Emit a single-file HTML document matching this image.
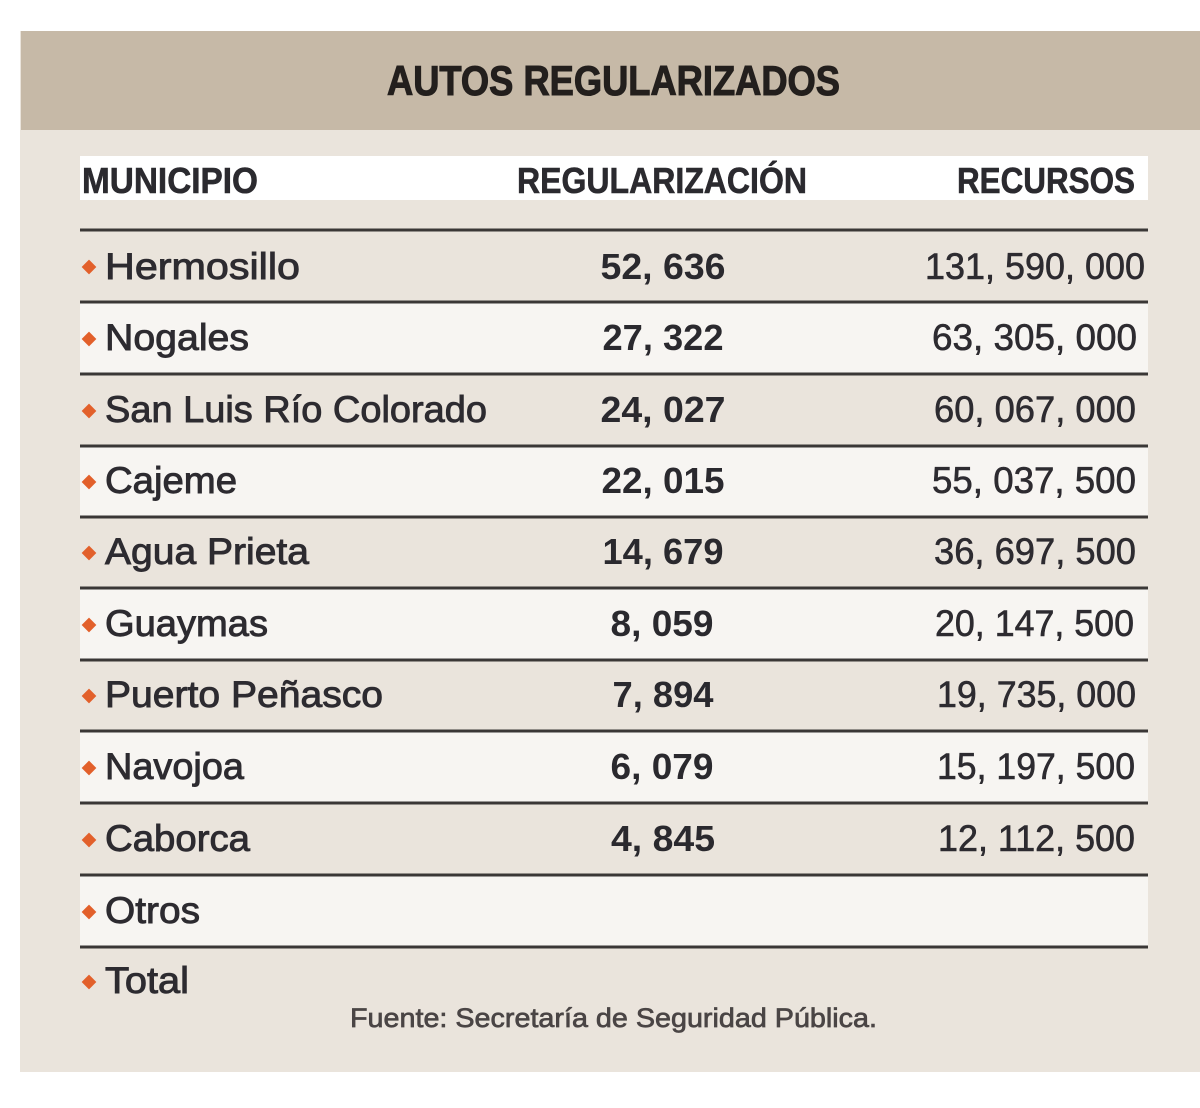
<!DOCTYPE html>
<html>
<head>
<meta charset="utf-8">
<style>
  html, body { margin: 0; padding: 0; background: #ffffff; }
  body { width: 1200px; height: 1108px; overflow: hidden; }
  svg { display: block; }
  text { font-family: "Liberation Sans", "DejaVu Sans", sans-serif; }
  .t { font-weight: bold; font-size: 42px; fill: #231f1d; stroke: #231f1d; stroke-width: 1.1px; }
  .h { font-weight: bold; font-size: 36px; fill: #2b2a2f; stroke: #2b2a2f; stroke-width: 0.6px; }
  .n { font-weight: normal; font-size: 37px; fill: #2d2b30; stroke: #2d2b30; stroke-width: 0.9px; }
  .m { font-weight: bold; font-size: 36px; fill: #2a292e; }
  .r { font-weight: normal; font-size: 37px; fill: #2d2b30; stroke: #2d2b30; stroke-width: 0.6px; }
  .f { font-weight: normal; font-size: 27px; fill: #4a4545; stroke: #4a4545; stroke-width: 0.7px; }
</style>
</head>
<body>
<svg width="1200" height="1108" viewBox="0 0 1200 1108" xmlns="http://www.w3.org/2000/svg">
  <rect x="0" y="0" width="1200" height="1108" fill="#ffffff"/>
  <!-- card -->
  <rect x="20" y="31" width="1180" height="1041" fill="#eae4dc"/>
  <!-- header band -->
  <rect x="21" y="31" width="1179" height="99" fill="#c6b9a7"/>
  <text class="t" x="387" y="95" textLength="453" lengthAdjust="spacingAndGlyphs">AUTOS REGULARIZADOS</text>

  <!-- column header strip -->
  <rect x="80" y="156" width="1068" height="44" fill="#ffffff"/>
  <text class="h" x="82" y="193" textLength="176" lengthAdjust="spacingAndGlyphs">MUNICIPIO</text>
  <text class="h" x="517" y="193" textLength="290" lengthAdjust="spacingAndGlyphs">REGULARIZACIÓN</text>
  <text class="h" x="957" y="193" textLength="178" lengthAdjust="spacingAndGlyphs">RECURSOS</text>

  <!-- light rows -->
  <g fill="#f7f5f2">
    <rect x="80" y="302" width="1068" height="72"/>
    <rect x="80" y="446" width="1068" height="71"/>
    <rect x="80" y="588" width="1068" height="72"/>
    <rect x="80" y="731" width="1068" height="72"/>
    <rect x="80" y="875" width="1068" height="72"/>
  </g>

  <!-- lines -->
  <g stroke="#3a3736" stroke-width="3">
    <line x1="80" y1="230" x2="1148" y2="230"/>
    <line x1="80" y1="302" x2="1148" y2="302"/>
    <line x1="80" y1="374" x2="1148" y2="374"/>
    <line x1="80" y1="446" x2="1148" y2="446"/>
    <line x1="80" y1="517" x2="1148" y2="517"/>
    <line x1="80" y1="588" x2="1148" y2="588"/>
    <line x1="80" y1="660" x2="1148" y2="660"/>
    <line x1="80" y1="731" x2="1148" y2="731"/>
    <line x1="80" y1="803" x2="1148" y2="803"/>
    <line x1="80" y1="875" x2="1148" y2="875"/>
    <line x1="80" y1="947" x2="1148" y2="947"/>
  </g>

  <!-- bullets -->
  <g fill="#e2602b">
    <rect x="-5.2" y="-5.2" width="10.4" height="10.4" transform="translate(89 267) rotate(45)"/>
    <rect x="-5.2" y="-5.2" width="10.4" height="10.4" transform="translate(89 339) rotate(45)"/>
    <rect x="-5.2" y="-5.2" width="10.4" height="10.4" transform="translate(89 411) rotate(45)"/>
    <rect x="-5.2" y="-5.2" width="10.4" height="10.4" transform="translate(89 482) rotate(45)"/>
    <rect x="-5.2" y="-5.2" width="10.4" height="10.4" transform="translate(89 553) rotate(45)"/>
    <rect x="-5.2" y="-5.2" width="10.4" height="10.4" transform="translate(89 625) rotate(45)"/>
    <rect x="-5.2" y="-5.2" width="10.4" height="10.4" transform="translate(89 696) rotate(45)"/>
    <rect x="-5.2" y="-5.2" width="10.4" height="10.4" transform="translate(89 768) rotate(45)"/>
    <rect x="-5.2" y="-5.2" width="10.4" height="10.4" transform="translate(89 840) rotate(45)"/>
    <rect x="-5.2" y="-5.2" width="10.4" height="10.4" transform="translate(89 912) rotate(45)"/>
    <rect x="-5.2" y="-5.2" width="10.4" height="10.4" transform="translate(89 982) rotate(45)"/>
  </g>

  <!-- names -->
  <text class="n" x="105" y="279" textLength="195" lengthAdjust="spacingAndGlyphs">Hermosillo</text>
  <text class="n" x="105" y="350" textLength="144" lengthAdjust="spacingAndGlyphs">Nogales</text>
  <text class="n" x="105" y="422" textLength="382" lengthAdjust="spacingAndGlyphs">San Luis Río Colorado</text>
  <text class="n" x="105" y="493" textLength="132" lengthAdjust="spacingAndGlyphs">Cajeme</text>
  <text class="n" x="105" y="564" textLength="204" lengthAdjust="spacingAndGlyphs">Agua Prieta</text>
  <text class="n" x="105" y="636" textLength="163" lengthAdjust="spacingAndGlyphs">Guaymas</text>
  <text class="n" x="105" y="707" textLength="278" lengthAdjust="spacingAndGlyphs">Puerto Peñasco</text>
  <text class="n" x="105" y="779" textLength="139" lengthAdjust="spacingAndGlyphs">Navojoa</text>
  <text class="n" x="105" y="851" textLength="145" lengthAdjust="spacingAndGlyphs">Caborca</text>
  <text class="n" x="105" y="923" textLength="95" lengthAdjust="spacingAndGlyphs">Otros</text>
  <text class="n" x="105" y="993" textLength="84" lengthAdjust="spacingAndGlyphs">Total</text>

  <!-- regularización -->
  <text class="m" x="663" y="279" text-anchor="middle" textLength="125" lengthAdjust="spacingAndGlyphs">52, 636</text>
  <text class="m" x="663" y="350" text-anchor="middle" textLength="121" lengthAdjust="spacingAndGlyphs">27, 322</text>
  <text class="m" x="663" y="422" text-anchor="middle" textLength="125" lengthAdjust="spacingAndGlyphs">24, 027</text>
  <text class="m" x="663" y="493" text-anchor="middle" textLength="123" lengthAdjust="spacingAndGlyphs">22, 015</text>
  <text class="m" x="663" y="564" text-anchor="middle" textLength="121" lengthAdjust="spacingAndGlyphs">14, 679</text>
  <text class="m" x="662" y="636" text-anchor="middle" textLength="103" lengthAdjust="spacingAndGlyphs">8, 059</text>
  <text class="m" x="663" y="707" text-anchor="middle" textLength="101" lengthAdjust="spacingAndGlyphs">7, 894</text>
  <text class="m" x="662" y="779" text-anchor="middle" textLength="103" lengthAdjust="spacingAndGlyphs">6, 079</text>
  <text class="m" x="663" y="851" text-anchor="middle" textLength="104" lengthAdjust="spacingAndGlyphs">4, 845</text>

  <!-- recursos -->
  <text class="r" x="1145" y="279" text-anchor="end" textLength="220" lengthAdjust="spacingAndGlyphs">131, 590, 000</text>
  <text class="r" x="1137" y="350" text-anchor="end" textLength="205" lengthAdjust="spacingAndGlyphs">63, 305, 000</text>
  <text class="r" x="1136" y="422" text-anchor="end" textLength="202" lengthAdjust="spacingAndGlyphs">60, 067, 000</text>
  <text class="r" x="1136" y="493" text-anchor="end" textLength="204" lengthAdjust="spacingAndGlyphs">55, 037, 500</text>
  <text class="r" x="1136" y="564" text-anchor="end" textLength="202" lengthAdjust="spacingAndGlyphs">36, 697, 500</text>
  <text class="r" x="1134" y="636" text-anchor="end" textLength="199" lengthAdjust="spacingAndGlyphs">20, 147, 500</text>
  <text class="r" x="1136" y="707" text-anchor="end" textLength="199" lengthAdjust="spacingAndGlyphs">19, 735, 000</text>
  <text class="r" x="1135" y="779" text-anchor="end" textLength="198" lengthAdjust="spacingAndGlyphs">15, 197, 500</text>
  <text class="r" x="1135" y="851" text-anchor="end" textLength="197" lengthAdjust="spacingAndGlyphs">12, 112, 500</text>

  <!-- source -->
  <text class="f" x="350" y="1027" textLength="527" lengthAdjust="spacingAndGlyphs">Fuente: Secretaría de Seguridad Pública.</text>
</svg>
</body>
</html>
